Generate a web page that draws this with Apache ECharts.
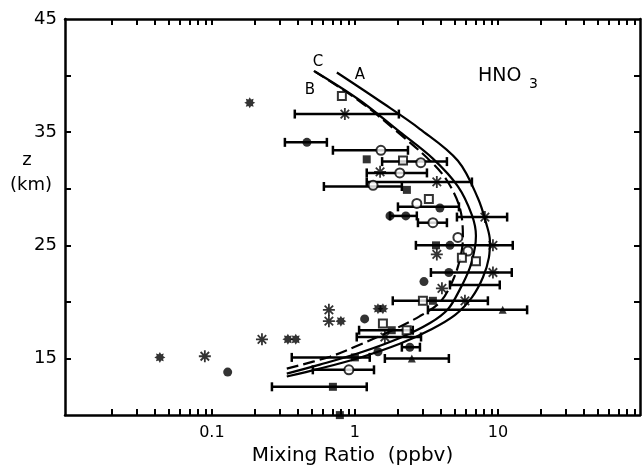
<!DOCTYPE html>
<html><head><meta charset="utf-8">
<script src="https://cdn.jsdelivr.net/npm/echarts@6/dist/echarts.min.js"></script>
<style>html,body{margin:0;padding:0;background:#fff}#c{width:642px;height:471px}</style>
</head><body><div id="c"></div>
<script>
// ---- axis ticks / labels ----
const xLabelValues = [0.1, 1, 10];
const xTickValues = [0.02,0.03,0.04,0.05,0.06,0.07,0.08,0.09,0.1,
  0.2,0.3,0.4,0.5,0.6,0.7,0.8,0.9,1,2,3,4,5,6,7,8,9,10,20,30,40,50,60,70,80,90];
const yLabelValues = [15, 25, 35, 45];
const yTickValues = [15, 20, 25, 30, 35, 40];

// ---- model curves [mixing ratio ppbv, z km] ----
const curveA = [[0.334,13.41],[0.569,14.11],[1.08,15.07],[2.06,16.30],[3.35,17.52],[5.0,18.84],[6.58,20.41],[7.85,22.16],[8.65,23.91],[8.79,25.40],[8.38,26.71],[7.25,29.16],[5.25,32.48],[2.85,35.28],[1.50,37.73],[0.748,40.27]];
const curveB = [[0.334,13.67],[0.569,14.46],[1.08,15.51],[2.06,16.82],[3.35,18.14],[4.47,19.36],[5.42,21.11],[6.37,23.04],[6.90,24.79],[7.02,25.84],[6.58,27.67],[5.25,30.21],[3.51,32.66],[2.06,35.02],[1.08,37.82],[0.525,40.36]];
const curveC = [[0.334,14.11],[0.669,15.16],[1.08,16.21],[1.84,17.52],[2.85,18.75],[3.93,19.97],[4.77,21.72],[5.42,23.74],[5.69,25.66],[5.42,28.29],[4.40,30.73],[3.35,32.48],[2.06,34.85],[1.08,37.73],[0.50,40.53]];

// ---- observations ----
const errorBars = [ // [low, high, z]
  [0.38,2.03,36.6],[0.324,0.637,34.1],[0.702,2.35,33.4],[1.55,4.40,32.4],[1.21,3.19,31.4],
  [1.21,6.58,30.6],[0.607,2.13,30.2],[2.0,5.34,28.4],[1.76,2.71,27.6],[2.76,4.40,27.0],
  [5.17,11.6,27.5],[2.67,12.7,25.0],[3.40,12.5,22.6],[4.62,10.3,21.5],[1.84,8.51,20.1],
  [3.24,16.0,19.3],[1.07,2.54,17.5],[1.03,2.9,16.9],[2.13,2.85,16.0],[0.362,1.27,15.1],
  [1.62,4.54,15.0],[0.508,1.36,14.0],[0.263,1.21,12.5]
];
const asterisks = [[0.851,36.6],[1.50,31.5],[3.74,30.6],[8.11,27.5],[9.23,25.0],[3.74,24.2],
  [9.23,22.6],[4.06,21.2],[5.88,20.1],[0.658,19.3],[0.658,18.3],[1.62,16.9],[0.0893,15.2],[0.224,16.7]];
const blobs = [[0.184,37.6],[0.798,18.3],[1.45,19.4],[1.57,19.4],[0.0433,15.1],[0.34,16.7],[0.386,16.7]];
const filledCircles = [[0.462,34.1],[3.93,28.3],[1.76,27.6],[2.27,27.6],[4.62,25.0],[4.54,22.6],
  [3.04,21.8],[1.17,18.5],[2.42,16.0],[1.45,15.6],[0.129,13.8]];
const openCircles = [[1.52,33.4],[2.89,32.3],[2.06,31.4],[1.34,30.3],[2.71,28.7],[3.51,27.0],
  [5.25,25.7],[6.17,24.5],[0.908,14.0]];
const openSquares = [[0.811,38.2],[2.17,32.5],[3.29,29.1],[5.60,23.9],[7.02,23.6],[2.99,20.1],[1.57,18.1],[2.3,17.5]];
const filledSquares = [[1.21,32.6],[2.31,29.9],[3.69,25.0],[3.51,20.1],[1.81,17.5],[1.0,15.1],[0.702,12.5],[0.785,10.0]];
const triangles = [[10.8,19.3],[2.5,15.0]];

// ---- symbol shapes ----
function asteriskPath(w) {
  let d = '';
  [0,45,90,135].forEach(a => {
    const r = a*Math.PI/180, c = Math.cos(r), s = Math.sin(r), h = w/2;
    const pts = [[c - s*h, s + c*h],[c + s*h, s - c*h],[-c + s*h, -s - c*h],[-c - s*h, -s + c*h]];
    d += 'M' + pts.map(p => ((p[0]+1)*50).toFixed(2)+' '+((p[1]+1)*50).toFixed(2)).join(' L') + ' Z ';
  });
  return 'path://' + d;
}
function blobPath(inner) {
  const pts = [];
  for (let i = 0; i < 16; i++) {
    const r = i*Math.PI/8, rad = i%2===0 ? 1 : inner;
    pts.push([(Math.cos(r)*rad+1)*50, (Math.sin(r)*rad+1)*50]);
  }
  return 'path://M' + pts.map(p => p[0].toFixed(2)+' '+p[1].toFixed(2)).join(' L') + ' Z';
}

const FONT = 'DejaVu Sans';
const chart = echarts.init(document.getElementById('c'), null, {renderer:'canvas'});
const xBase = {
  type:'log', logBase:10, min:0.0094, max:98.5,
  axisLine:{show:true, lineStyle:{color:'#000', width:2.5}},
  splitLine:{show:false}, minorTick:{show:false}
};
const yBase = {
  type:'value', min:10, max:45, interval:5,
  axisLine:{show:true, lineStyle:{color:'#000', width:2.5}},
  splitLine:{show:false}
};
const scatterBase = {type:'scatter', xAxisIndex:0, yAxisIndex:0, z:5};

chart.setOption({
  animation:false,
  backgroundColor:'#fff',
  grid:{left:65, right:2, top:19, bottom:52, containLabel:false},
  xAxis:[
    Object.assign({}, xBase, {position:'bottom',
      axisTick:{show:true, inside:true, length:6, customValues:xTickValues, lineStyle:{color:'#000', width:2}},
      axisLabel:{show:true, customValues:xLabelValues, margin:10, color:'#000', fontFamily:FONT, fontSize:16,
        formatter: v => (v < 1 ? '0.1' : String(Math.round(v)))},
      name:'Mixing Ratio  (ppbv)', nameLocation:'middle', nameGap:28,
      nameTextStyle:{color:'#000', fontFamily:FONT, fontSize:20}}),
    Object.assign({}, xBase, {position:'top',
      axisTick:{show:true, inside:true, length:6, customValues:xTickValues, lineStyle:{color:'#000', width:2}},
      axisLabel:{show:false}})
  ],
  yAxis:[
    Object.assign({}, yBase, {position:'left',
      axisTick:{show:true, inside:true, length:6, customValues:yTickValues, lineStyle:{color:'#000', width:2}},
      axisLabel:{show:true, customValues:yLabelValues, margin:8, color:'#000', fontFamily:FONT, fontSize:18}}),
    Object.assign({}, yBase, {position:'right',
      axisTick:{show:true, inside:true, length:6, customValues:yTickValues, lineStyle:{color:'#000', width:2}},
      axisLabel:{show:false}})
  ],
  graphic:[
    {type:'text', x:27, y:160, style:{text:'z', font:'18px "DejaVu Sans"', fill:'#000', align:'center', verticalAlign:'middle'}},
    {type:'text', x:31, y:185, style:{text:'(km)', font:'18px "DejaVu Sans"', fill:'#000', align:'center', verticalAlign:'middle'}},
    {type:'text', x:478, y:76, style:{text:'HNO', font:'19px "DejaVu Sans"', fill:'#000', align:'left', verticalAlign:'middle'}},
    {type:'text', x:529, y:84, style:{text:'3', font:'14px "DejaVu Sans"', fill:'#000', align:'left', verticalAlign:'middle'}},
    {type:'text', x:360, y:75, style:{text:'A', font:'15px "DejaVu Sans"', fill:'#000', align:'center', verticalAlign:'middle'}},
    {type:'text', x:318, y:62, style:{text:'C', font:'15px "DejaVu Sans"', fill:'#000', align:'center', verticalAlign:'middle'}},
    {type:'text', x:310, y:90, style:{text:'B', font:'15px "DejaVu Sans"', fill:'#000', align:'center', verticalAlign:'middle'}}
  ],
  series:[
    {type:'line', data:curveA, showSymbol:false, smooth:0.35, lineStyle:{color:'#000', width:2.2}, z:2},
    {type:'line', data:curveB, showSymbol:false, smooth:0.35, lineStyle:{color:'#000', width:2.2}, z:2},
    {type:'line', data:curveC, showSymbol:false, smooth:0.35, lineStyle:{color:'#000', width:2.2, type:[12,5]}, z:2},
    {type:'custom', xAxisIndex:0, yAxisIndex:0, z:3, data:errorBars, encode:{x:[0,1], y:2},
      renderItem:(params, api) => {
        const p1 = api.coord([api.value(0), api.value(2)]);
        const p2 = api.coord([api.value(1), api.value(2)]);
        const h = 4.5, st = {stroke:'#000', lineWidth:2.5};
        return {type:'group', children:[
          {type:'line', shape:{x1:p1[0], y1:p1[1], x2:p2[0], y2:p2[1]}, style:st},
          {type:'line', shape:{x1:p1[0], y1:p1[1]-h, x2:p1[0], y2:p1[1]+h}, style:st},
          {type:'line', shape:{x1:p2[0], y1:p2[1]-h, x2:p2[0], y2:p2[1]+h}, style:st}
        ]};
      }},
    Object.assign({}, scatterBase, {data:asterisks, symbol:asteriskPath(0.3), symbolSize:12, itemStyle:{color:'#000'}}),
    Object.assign({}, scatterBase, {data:blobs, symbol:blobPath(0.62), symbolSize:11, itemStyle:{color:'#000'}}),
    Object.assign({}, scatterBase, {data:filledCircles, symbol:'circle', symbolSize:9, itemStyle:{color:'#000'}}),
    Object.assign({}, scatterBase, {data:openCircles, symbol:'circle', symbolSize:9, itemStyle:{color:'#fff', borderColor:'#000', borderWidth:2}}),
    Object.assign({}, scatterBase, {data:openSquares, symbol:'rect', symbolSize:8, itemStyle:{color:'#fff', borderColor:'#000', borderWidth:2}}),
    Object.assign({}, scatterBase, {data:filledSquares, symbol:'rect', symbolSize:8, itemStyle:{color:'#000'}}),
    Object.assign({}, scatterBase, {data:triangles, symbol:'triangle', symbolSize:8, itemStyle:{color:'#000'}})
  ]
});
</script>
</body></html>
